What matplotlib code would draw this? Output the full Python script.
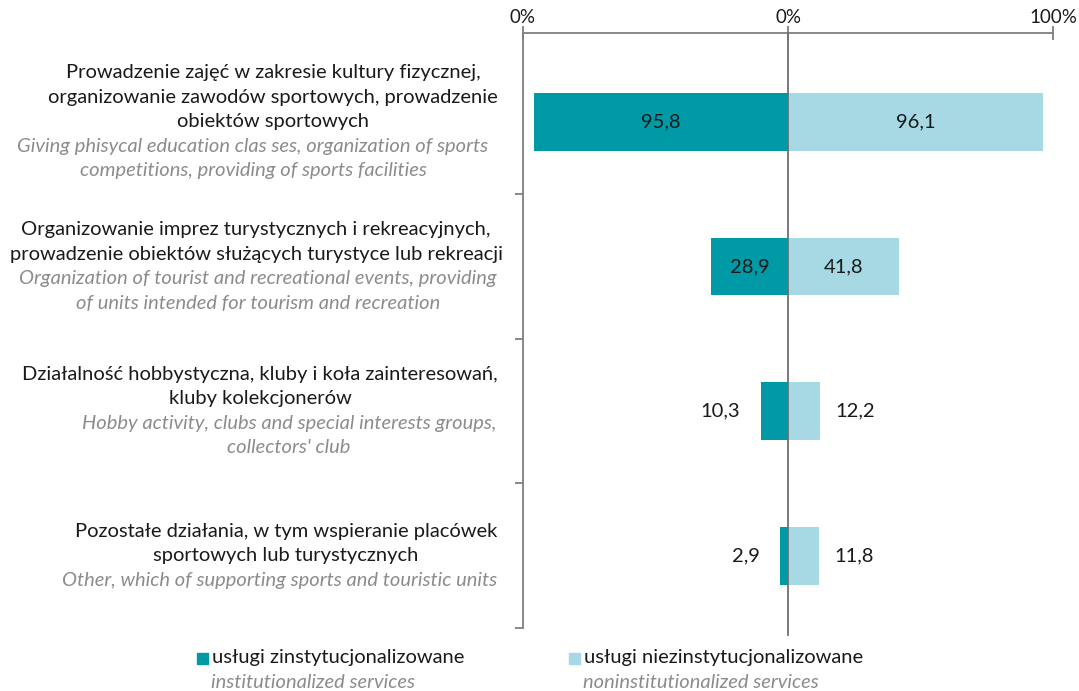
import matplotlib.pyplot as plt
import matplotlib.transforms as mtransforms
from matplotlib.patches import Rectangle

plt.rcParams['font.family'] = ['Lato', 'DejaVu Sans']

# Category labels: Polish (regular) and English (italic), one list entry per line
labels_pl = [
    ['Prowadzenie zajęć w zakresie kultury fizycznej,',
     'organizowanie zawodów sportowych, prowadzenie',
     'obiektów sportowych'],
    ['Organizowanie imprez turystycznych i rekreacyjnych,',
     'prowadzenie obiektów służących turystyce lub rekreacji'],
    ['Działalność hobbystyczna, kluby i koła zainteresowań,',
     'kluby kolekcjonerów'],
    ['Pozostałe działania, w tym wspieranie placówek',
     'sportowych lub turystycznych'],
]
labels_en = [
    ['Giving phisycal education clas ses, organization of sports',
     'competitions, providing of sports facilities'],
    ['Organization of tourist and recreational events, providing',
     'of units intended for tourism and recreation'],
    ['Hobby activity, clubs and special interests groups,',
     "collectors' club"],
    ['Other, which of supporting sports and touristic units'],
]

institutional = [95.8, 28.9, 10.3, 2.9]
noninstitutional = [96.1, 41.8, 12.2, 11.8]

tick_values = [-100, 0, 100]
tick_labels = ['0%', '0%', '100%']

legend_pl = ['usługi zinstytucjonalizowane', 'usługi niezinstytucjonalizowane']
legend_en = ['institutionalized services', 'noninstitutionalized services']

dark = '#0099a6'
light = '#a6d9e3'
grey_text = '#8c8c8c'
axis_grey = '#7f7f7f'
fs = 14.5

W, H = 1079, 691
fig = plt.figure(figsize=(W / 100, H / 100), dpi=100)
ax = fig.add_axes([523 / W, 1 - 628 / H, 530 / W, (628 - 33) / H])

y = list(range(len(institutional)))
ax.barh(y, [-v for v in institutional], height=0.4, color=dark, zorder=2)
ax.barh(y, noninstitutional, height=0.4, color=light, zorder=2)

ax.set_xlim(-100, 100)
ax.set_ylim(3.5, -0.614)

# axes styling
for side in ['right', 'bottom']:
    ax.spines[side].set_visible(False)
for side in ['top', 'left']:
    ax.spines[side].set_color(axis_grey)
    ax.spines[side].set_linewidth(1.3)
ax.xaxis.tick_top()
ax.set_xticks(tick_values)
ax.set_xticklabels(tick_labels, fontsize=13.5, color='#1a1a1a')
ax.tick_params(axis='x', direction='inout', length=10, width=1.3,
               color=axis_grey, pad=0)
ax.set_yticks([0.5, 1.5, 2.5, 3.5])
ax.set_yticklabels([])
ax.tick_params(axis='y', direction='out', length=6, width=1.3, color=axis_grey)

ax.axvline(0, ymin=-0.012, ymax=1, color='#6f6f6f', lw=1.3, zorder=3,
           clip_on=False)

# value labels
for i, (a, b) in enumerate(zip(institutional, noninstitutional)):
    ta = f'{a:.1f}'.replace('.', ',')
    tb = f'{b:.1f}'.replace('.', ',')
    if a > 20:
        ax.text(-a / 2, i, ta, ha='center', va='center', fontsize=fs,
                color='#1a1a1a', zorder=4)
    else:
        ax.annotate(ta, (-a, i), xytext=(-15, 0), textcoords='offset points',
                    ha='right', va='center', fontsize=fs, color='#1a1a1a')
    if b > 20:
        ax.text(b / 2, i, tb, ha='center', va='center', fontsize=fs,
                color='#1a1a1a', zorder=4)
    else:
        ax.annotate(tb, (b, i), xytext=(11, 0), textcoords='offset points',
                    ha='left', va='center', fontsize=fs, color='#1a1a1a')

# category labels, centred vertically on each bar
trans = mtransforms.blended_transform_factory(fig.transFigure, ax.transData)
pitch = 17.6
pl_x = [273, 256, 260, 286]
en_x = [253, 258, 289, 280]
for i in range(len(labels_pl)):
    lines = [(t, 'pl') for t in labels_pl[i]] + [(t, 'en') for t in labels_en[i]]
    n = len(lines)
    for k, (t, kind) in enumerate(lines):
        off = ((n - 1) / 2 - k) * pitch
        cx = (pl_x[i] if kind == 'pl' else en_x[i]) / W
        ax.annotate(t, (cx, i), xycoords=trans, xytext=(0, off),
                    textcoords='offset points', ha='center', va='center',
                    fontsize=fs,
                    color='#1a1a1a' if kind == 'pl' else grey_text,
                    style='normal' if kind == 'pl' else 'italic',
                    annotation_clip=False)

# legend
for x0, col, t1, t2 in [(197, dark, legend_pl[0], legend_en[0]),
                        (569, light, legend_pl[1], legend_en[1])]:
    fig.patches.append(Rectangle((x0 / W, 1 - 664 / H), 11 / W, 11 / H,
                                 transform=fig.transFigure, color=col))
    fig.text((x0 + 15) / W, 1 - 658 / H, t1, ha='left', va='center',
             fontsize=fs, color='#1a1a1a')
    fig.text((x0 + 14) / W, 1 - 683 / H, t2, ha='left', va='center',
             fontsize=fs, color=grey_text, style='italic')

fig.savefig('out.png', dpi=100)
